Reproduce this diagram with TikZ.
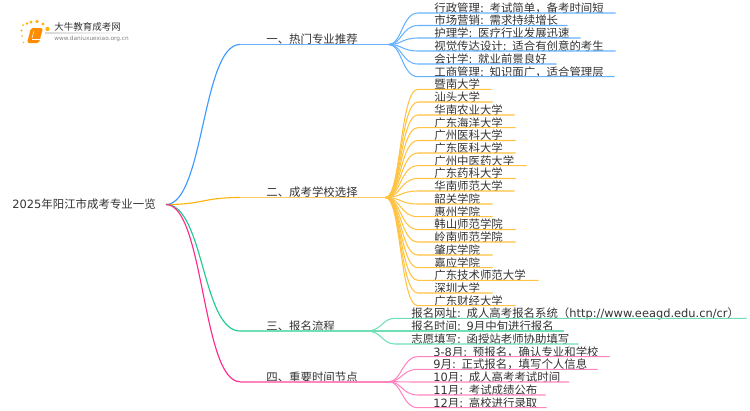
\documentclass[tikz,border=0pt]{standalone}
\usepackage{fontspec}
\setmainfont{Noto Sans CJK SC}
\newfontfamily\latinfont{DejaVu Sans}
\newcommand{\lat}[1]{{\latinfont #1}}
\definecolor{bluedark}{HTML}{3D9BFF}
\definecolor{bluelite}{HTML}{66B2FF}
\definecolor{orangedark}{HTML}{FFB311}
\definecolor{orangelite}{HTML}{FFCB66}
\definecolor{greendark}{HTML}{1ECB8B}
\definecolor{greenlite}{HTML}{70DFB5}
\definecolor{pinkdark}{HTML}{FF2A8E}
\definecolor{pinklite}{HTML}{FF85BF}
\definecolor{inktext}{HTML}{333333}
\tikzset{
  rootlabel/.style={font=\fontsize{6.5pt}{8pt}\selectfont, text=inktext, inner xsep=5.67pt, inner ysep=1pt},
  leaflabel/.style={font=\fontsize{6.5pt}{8pt}\selectfont, text=inktext, anchor=south west, inner xsep=0pt, inner ysep=0.1pt, text height=5.6pt, text depth=0pt, align=left},
  trunk/.style={line width=0.65pt},
  twig/.style={line width=0.6pt},
}
\begin{document}
\begin{tikzpicture}[x=0.02cm,y=-0.02cm]
  \useasboundingbox (0,0) rectangle (750,410);
  \node[rootlabel, anchor=east] (root) at (166,204.5) {\lat{2025}年阳江市成考专业一览};

  % branches
  \node[leaflabel, text width=2.44cm] (hot) at (266,44.5) {\mbox{一、热门专业推荐}};
  \node[leaflabel, text width=2.38cm] (school) at (266,197.5) {\mbox{二、成考学校选择}};
  \node[leaflabel, text width=2.0cm] (apply) at (266,331) {\mbox{三、报名流程}};
  \node[leaflabel, text width=2.44cm] (dates) at (266,381.7) {\mbox{四、重要时间节点}};
  \draw[bluelite, line width=0.9pt] (hot.south east) -- (hot.south west) -- ++(-26,0);
  \draw[orangelite, line width=0.9pt] (school.south east) -- (school.south west) -- ++(-26,0);
  \draw[greenlite, line width=0.9pt] (apply.south east) -- (apply.south west) -- ++(-26,0);
  \draw[pinklite, line width=0.9pt] (dates.south east) -- (dates.south west) -- ++(-26,0);
  \draw[bluedark, trunk] (root.east) .. controls (204,204.5) and (202,44.5) .. (240,44.5);
  \draw[orangedark, trunk] (root.east) .. controls (204,204.5) and (202,197.5) .. (240,197.5);
  \draw[greendark, trunk] (root.east) .. controls (204,204.5) and (202,331) .. (240,331);
  \draw[pinkdark, trunk] (root.east) .. controls (204,204.5) and (202,381.7) .. (240,381.7);

  % first branch
  \foreach \y/\e/\txt [count=\i] in {
    13/615/行政管理\lat{: }考试简单，备考时间短,
    25.5/567/市场营销\lat{: }需求持续增长,
    38/580/护理学\lat{: }医疗行业发展迅速,
    51/615/视觉传达设计\lat{: }适合有创意的考生,
    64/556/会计学\lat{: }就业前景良好,
    76.7/614/工商管理\lat{: }知识面广，适合管理层} {
    \pgfmathsetlengthmacro{\wlen}{(\e-434)*0.02cm}
    \node[leaflabel, text width=\wlen] (hot\i) at (434,\y) {\mbox{\txt}};
    \draw[bluelite, twig] (hot\i.south east) -- (hot\i.south west) -- ++(-16,0)
      .. controls (402,\y) and (402,44.5) .. (hot.south east);
  }

  % second branch
  \foreach \y/\e/\txt [count=\i] in {
    89.3/491/暨南大学,
    102/492/汕头大学,
    115/514/华南农业大学,
    127.7/515/广东海洋大学,
    140.5/515/广州医科大学,
    153/515/广东医科大学,
    165.7/526/广州中医药大学,
    178.5/515/广东药科大学,
    191/514/华南师范大学,
    204/492/韶关学院,
    216.7/492/惠州学院,
    229.5/515/韩山师范学院,
    242/515/岭南师范学院,
    255/492/肇庆学院,
    267.7/492/嘉应学院,
    280.3/538/广东技术师范大学,
    293/492/深圳大学,
    305.7/515/广东财经大学} {
    \pgfmathsetlengthmacro{\wlen}{(\e-434)*0.02cm}
    \node[leaflabel, text width=\wlen] (school\i) at (434,\y) {\mbox{\txt}};
    \draw[orangedark!80!white, twig] (school\i.south east) -- (school\i.south west) -- ++(-16,0)
      .. controls (400,\y) and (401,197.5) .. (school.south east);
  }

  % third branch
  \foreach \y/\e/\txt [count=\i] in {
    318.3/746/{报名网址\lat{: }成人高考报名系统（\lat{http://www.eeagd.edu.cn/cr}）},
    331/563/{报名时间\lat{: 9}月中旬进行报名},
    344/578/{志愿填写\lat{: }函授站老师协助填写}} {
    \pgfmathsetlengthmacro{\wlen}{(\e-411)*0.02cm}
    \node[leaflabel, text width=\wlen] (apply\i) at (411,\y) {\mbox{\txt}};
    \draw[greenlite, twig] (apply\i.south east) -- (apply\i.south west) -- ++(-16,0)
      .. controls (382,\y) and (382,331) .. (apply.south east);
  }

  % fourth branch
  \foreach \y/\e/\txt [count=\i] in {
    356.7/609/{\lat{3-8}月\lat{: }预报名，确认专业和学校},
    369.3/597/{\lat{9}月\lat{: }正式报名，填写个人信息},
    382/568.5/{\lat{10}月\lat{: }成人高考考试时间},
    395/545/{\lat{11}月\lat{: }考试成绩公布},
    407.7/546/{\lat{12}月\lat{: }高校进行录取}} {
    \pgfmathsetlengthmacro{\wlen}{(\e-433)*0.02cm}
    \node[leaflabel, text width=\wlen] (dates\i) at (433,\y) {\mbox{\txt}};
    \draw[pinklite, twig] (dates\i.south east) -- (dates\i.south west) -- ++(-15,0)
      .. controls (402,\y) and (402,381.7) .. (dates.south east);
  }

  % logo
  \begin{scope}
    \foreach \px/\py/\r in {23/25/1, 27/23.5/1.3, 31/22/1.6, 37/21.5/1.8, 43/24/1.6, 47.5/29/2.2, 21.5/30.5/1.1, 22/36/0.9, 23.5/42.5/0.8}
      \fill[orangedark] (\px,\py) circle[radius=\r];
    \fill[orange!90!yellow, rounded corners=1pt] (31,28) -- (43,28) -- (39,43) -- (27,43) -- cycle;
    \draw[white, line width=0.4pt] (32,39.5) -- (39.5,39.5);
    \draw[white, line width=0.3pt] (34,31) -- (32,38);
    \node[inner sep=0pt, anchor=west, font=\fontsize{5.4pt}{6pt}\selectfont, text=inktext] (logotitle) at (54,26.5) {大牛教育成考网};
    \node[inner sep=0pt, anchor=west, font=\fontsize{3.3pt}{4pt}\selectfont, text=gray] (logourl) at (54,38.5) {\lat{www.daniuxuexiao.org.cn}};
    \shade[left color=gray!30, right color=white] (45,32.7) rectangle (133,33.4);
  \end{scope}
\end{tikzpicture}
\end{document}
